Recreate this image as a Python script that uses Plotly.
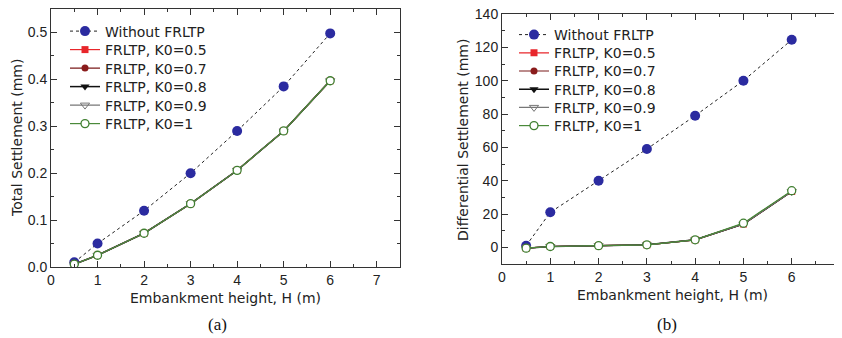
import plotly.graph_objects as go

H = [0.5, 1, 2, 3, 4, 5, 6]
total_without = [0.010, 0.050, 0.120, 0.200, 0.290, 0.385, 0.498]
total_k05 = [0.006, 0.025, 0.072, 0.135, 0.206, 0.290, 0.397]
total_k07 = [0.006, 0.025, 0.072, 0.135, 0.206, 0.290, 0.397]
total_k08 = [0.006, 0.025, 0.072, 0.135, 0.206, 0.290, 0.397]
total_k09 = [0.006, 0.025, 0.072, 0.135, 0.206, 0.290, 0.397]
total_k1 = [0.006, 0.025, 0.072, 0.135, 0.206, 0.290, 0.397]

diff_without = [1.0, 21.0, 40.0, 59.0, 79.0, 100.0, 124.5]
diff_k05 = [-0.5, 0.5, 1.0, 1.5, 4.5, 14.0, 33.5]
diff_k07 = [-0.5, 0.5, 1.0, 1.5, 4.5, 14.0, 33.5]
diff_k08 = [-0.5, 0.5, 1.0, 1.5, 4.5, 14.0, 33.5]
diff_k09 = [-0.5, 0.5, 1.0, 1.5, 4.5, 14.0, 33.5]
diff_k1 = [-0.5, 0.5, 1.0, 1.5, 4.5, 14.5, 34.0]

names = ["Without FRLTP", "FRLTP, K0=0.5", "FRLTP, K0=0.7",
         "FRLTP, K0=0.8", "FRLTP, K0=0.9", "FRLTP, K0=1"]

styles = [
    dict(line=dict(color="#222222", width=1, dash="3px,3px"),
         marker=dict(symbol="circle", size=10, color="#2b2ba0", line=dict(width=0))),
    dict(line=dict(color="#e8262b", width=1.2),
         marker=dict(symbol="square", size=7, color="#e8262b", line=dict(width=0))),
    dict(line=dict(color="#7a1a1a", width=1.2),
         marker=dict(symbol="circle", size=7, color="#8a1c1c", line=dict(width=0))),
    dict(line=dict(color="#111111", width=1.5),
         marker=dict(symbol="triangle-down", size=8, color="#111111", line=dict(width=0))),
    dict(line=dict(color="#777777", width=1.2),
         marker=dict(symbol="triangle-down-open", size=8, color="#777777", line=dict(width=1))),
    dict(line=dict(color="#4a8a3a", width=1.2),
         marker=dict(symbol="circle", size=8, color="white", line=dict(color="#3f7f30", width=1.3))),
]

W, Hh = 842, 338
OFF = 8  # page body margin offset


def px_x(p):
    return (p - OFF) / W


def px_y(p):
    return 1 - (p - OFF) / Hh


fig = go.Figure()

left_series = [total_without, total_k05, total_k07, total_k08, total_k09, total_k1]
right_series = [diff_without, diff_k05, diff_k07, diff_k08, diff_k09, diff_k1]

legfont = dict(family="DejaVu Sans, sans-serif", size=14, color="#222222")
legends = {}
for i, (n, y, s) in enumerate(zip(names, left_series, styles)):
    key = "legend" if i == 0 else f"legend{i + 1}"
    fig.add_trace(go.Scatter(x=H, y=y, name=n, mode="lines+markers",
                             xaxis="x", yaxis="y", legend=key, **s))
    legends[key] = dict(x=px_x(65), y=px_y(31.5 + 18.5 * i),
                        xanchor="left", yanchor="middle",
                        bgcolor="rgba(0,0,0,0)", font=legfont)
for i, (n, y, s) in enumerate(zip(names, right_series, styles)):
    key = f"legend{i + 7}"
    fig.add_trace(go.Scatter(x=H, y=y, name=n, mode="lines+markers",
                             xaxis="x2", yaxis="y2", legend=key, **s))
    legends[key] = dict(x=px_x(514), y=px_y(35 + 18.2 * i),
                        xanchor="left", yanchor="middle",
                        bgcolor="rgba(0,0,0,0)", font=legfont)

axcol = "#333333"
tickfont = dict(family="Liberation Sans, Arial, sans-serif", size=14, color="#222222")


def ax(**kw):
    d = dict(showline=True, linecolor=axcol, linewidth=1, mirror="allticks",
             ticks="inside", ticklen=6, tickcolor=axcol, tickwidth=1,
             showgrid=False, zeroline=False, tickfont=tickfont, automargin=False,
             ticklabeloverflow="allow")
    d.update(kw)
    return d


fig.update_layout(
    width=W, height=Hh,
    margin=dict(l=0, r=0, t=0, b=0),
    showlegend=True,
    paper_bgcolor="white", plot_bgcolor="white",
    xaxis=ax(domain=[px_x(51), px_x(400)], range=[0, 7.5], dtick=1, anchor="y",
             minor=dict(dtick=0.5, ticks="inside", ticklen=3, tickcolor=axcol)),
    yaxis=ax(domain=[px_y(267), px_y(9)], range=[0, 0.55], dtick=0.1,
             tickformat=".1f", anchor="x",
             minor=dict(dtick=0.05, ticks="inside", ticklen=3, tickcolor=axcol)),
    xaxis2=ax(domain=[px_x(502), px_x(840)], range=[0, 7], dtick=1, anchor="y2",
              minor=dict(dtick=0.5, ticks="inside", ticklen=3, tickcolor=axcol)),
    yaxis2=ax(domain=[px_y(264), px_y(14)], range=[-10, 140], dtick=20,
              tick0=0, anchor="x2",
              minor=dict(dtick=10, ticks="inside", ticklen=3, tickcolor=axcol)),
    **legends,
)

titlefont = dict(family="DejaVu Sans, sans-serif", size=14, color="#222222")
annots = [
    dict(text="Total Settlement (mm)", x=px_x(17), y=px_y(138), textangle=-90),
    dict(text="Differential Settlement (mm)", x=px_x(463), y=px_y(140), textangle=-90),
    dict(text="Embankment height, H (m)", x=px_x(226), y=px_y(298)),
    dict(text="Embankment height, H (m)", x=px_x(672), y=px_y(295)),
]
for a in annots:
    fig.add_annotation(xref="paper", yref="paper", showarrow=False,
                       xanchor="center", yanchor="middle", borderpad=0,
                       font=titlefont, **a)

serif = dict(family="Liberation Serif, Times New Roman, serif", size=17, color="#111111")
for lbl, xc in (("(a)", 217), ("(b)", 667)):
    fig.add_annotation(text=lbl, x=px_x(xc), y=px_y(324), xref="paper", yref="paper",
                       showarrow=False, xanchor="center", yanchor="middle",
                       borderpad=0, font=serif)

fig.write_html("out.html")
